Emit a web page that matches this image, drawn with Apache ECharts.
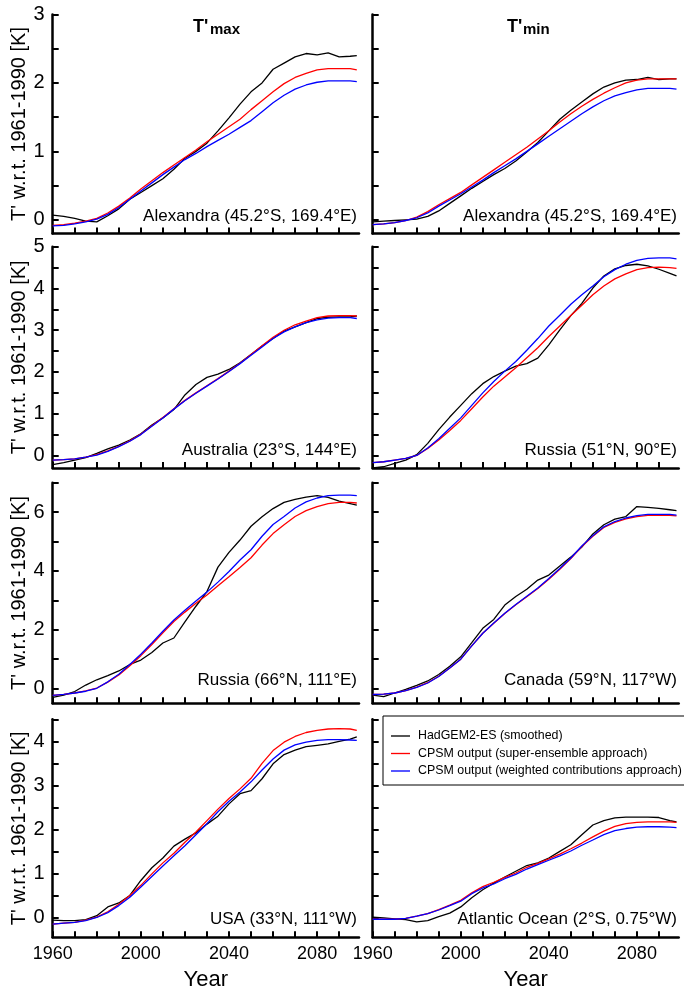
<!DOCTYPE html>
<html>
<head>
<meta charset="utf-8">
<script src="https://cdn.jsdelivr.net/npm/echarts@6/dist/echarts.min.js"></script>
<style>
html,body{margin:0;padding:0;background:#fff;}
#chart{width:684px;height:996px;}
</style>
</head>
<body>
<div id="chart"></div>
<script>
// ---------- data ----------
const years = [1960,1965,1970,1975,1980,1985,1990,1995,2000,2005,2010,2015,2020,2025,2030,2035,2040,2045,2050,2055,2060,2065,2070,2075,2080,2085,2090,2095,2098];

const seriesNames = ['HadGEM2-ES (smoothed)','CPSM output (super-ensemble approach)','CPSM output (weighted contributions approach)'];
const seriesColors = ['#000000','#ff0000','#0000ff'];

// Tmax Alexandra
const tmaxAlexandraHad = [0.07,0.05,0.02,-0.02,-0.03,0.06,0.16,0.30,0.40,0.50,0.60,0.74,0.90,1.00,1.12,1.30,1.49,1.69,1.87,2.00,2.20,2.29,2.38,2.43,2.41,2.44,2.38,2.39,2.40];
const tmaxAlexandraSup = [-0.08,-0.07,-0.05,-0.02,0.02,0.10,0.20,0.32,0.45,0.57,0.69,0.80,0.91,1.02,1.14,1.25,1.36,1.47,1.61,1.74,1.87,1.99,2.08,2.14,2.19,2.21,2.21,2.21,2.19];
const tmaxAlexandraWgt = [-0.09,-0.08,-0.06,-0.03,0.01,0.08,0.18,0.30,0.42,0.54,0.66,0.77,0.88,0.97,1.07,1.16,1.25,1.35,1.45,1.58,1.71,1.82,1.91,1.97,2.01,2.03,2.03,2.03,2.02];
// Tmin Alexandra
const tminAlexandraHad = [-0.03,-0.02,-0.01,0.00,0.01,0.05,0.13,0.24,0.35,0.46,0.56,0.66,0.75,0.86,0.99,1.13,1.30,1.47,1.60,1.72,1.84,1.94,2.00,2.04,2.05,2.08,2.05,2.06,2.06];
const tminAlexandraSup = [-0.07,-0.06,-0.04,-0.01,0.04,0.12,0.22,0.31,0.40,0.51,0.62,0.73,0.84,0.95,1.06,1.18,1.30,1.43,1.55,1.66,1.76,1.85,1.93,2.00,2.04,2.06,2.06,2.06,2.06];
const tminAlexandraWgt = [-0.07,-0.06,-0.04,-0.01,0.03,0.10,0.20,0.29,0.38,0.48,0.58,0.69,0.79,0.89,1.00,1.11,1.22,1.33,1.44,1.55,1.65,1.74,1.81,1.86,1.90,1.92,1.92,1.92,1.91];
// Tmax Australia
const tmaxAustraliaHad = [-0.22,-0.17,-0.11,-0.05,0.05,0.16,0.25,0.37,0.52,0.73,0.90,1.10,1.45,1.70,1.87,1.95,2.06,2.22,2.42,2.62,2.80,2.98,3.08,3.18,3.28,3.31,3.32,3.32,3.34];
const tmaxAustraliaSup = [-0.11,-0.10,-0.08,-0.04,0.02,0.11,0.22,0.35,0.51,0.71,0.91,1.12,1.32,1.50,1.67,1.84,2.02,2.21,2.42,2.63,2.83,3.00,3.13,3.22,3.30,3.34,3.35,3.35,3.34];
const tmaxAustraliaWgt = [-0.11,-0.10,-0.08,-0.04,0.01,0.10,0.21,0.34,0.50,0.70,0.90,1.11,1.31,1.49,1.66,1.83,2.01,2.20,2.40,2.60,2.80,2.96,3.08,3.18,3.25,3.29,3.30,3.30,3.28];
// Tmin Russia 51N
const tminRussiaHad = [-0.30,-0.27,-0.19,-0.11,0.02,0.29,0.62,0.92,1.20,1.48,1.72,1.89,2.02,2.14,2.20,2.33,2.65,3.01,3.35,3.64,4.01,4.30,4.47,4.55,4.58,4.54,4.46,4.36,4.30];
const tminRussiaSup = [-0.17,-0.15,-0.11,-0.07,0.00,0.17,0.37,0.60,0.84,1.12,1.40,1.66,1.88,2.10,2.34,2.58,2.85,3.10,3.35,3.60,3.85,4.06,4.23,4.35,4.45,4.50,4.51,4.50,4.48];
const tminRussiaWgt = [-0.17,-0.15,-0.11,-0.07,0.00,0.18,0.40,0.65,0.90,1.20,1.50,1.77,2.02,2.25,2.52,2.80,3.10,3.36,3.62,3.85,4.06,4.28,4.45,4.58,4.67,4.72,4.73,4.73,4.71];
// Tmax Russia 66N
const tmaxRussiaHad = [-0.30,-0.22,-0.10,0.12,0.30,0.44,0.60,0.82,0.97,1.23,1.55,1.72,2.27,2.80,3.30,4.13,4.63,5.05,5.52,5.84,6.12,6.33,6.43,6.51,6.56,6.50,6.37,6.29,6.24];
const tmaxRussiaSup = [-0.23,-0.20,-0.15,-0.08,0.02,0.22,0.46,0.78,1.12,1.50,1.90,2.28,2.60,2.90,3.18,3.50,3.80,4.12,4.45,4.88,5.27,5.57,5.85,6.05,6.19,6.29,6.33,6.33,6.31];
const tmaxRussiaWgt = [-0.23,-0.20,-0.15,-0.09,0.01,0.23,0.49,0.82,1.17,1.55,1.95,2.33,2.66,2.98,3.28,3.62,3.98,4.37,4.72,5.18,5.58,5.85,6.14,6.35,6.48,6.56,6.58,6.58,6.56];
// Tmin Canada
const tminCanadaHad = [-0.22,-0.27,-0.15,-0.03,0.11,0.26,0.48,0.76,1.08,1.56,2.05,2.35,2.84,3.13,3.38,3.69,3.86,4.17,4.47,4.81,5.26,5.57,5.76,5.85,6.19,6.16,6.13,6.08,6.05];
const tminCanadaSup = [-0.20,-0.19,-0.15,-0.07,0.05,0.20,0.42,0.70,1.00,1.45,1.88,2.22,2.55,2.85,3.12,3.40,3.72,4.06,4.42,4.83,5.18,5.48,5.65,5.77,5.85,5.89,5.89,5.89,5.87];
const tminCanadaWgt = [-0.20,-0.19,-0.15,-0.07,0.04,0.19,0.41,0.70,1.00,1.45,1.88,2.23,2.56,2.86,3.14,3.42,3.74,4.08,4.44,4.85,5.20,5.50,5.68,5.80,5.88,5.92,5.92,5.92,5.90];
// Tmax USA
const tmaxUsaHad = [-0.06,-0.07,-0.07,-0.05,0.04,0.24,0.33,0.50,0.84,1.13,1.35,1.62,1.78,1.92,2.12,2.30,2.58,2.81,2.88,3.15,3.49,3.70,3.80,3.88,3.91,3.94,4.00,4.05,4.10];
const tmaxUsaSup = [-0.15,-0.13,-0.11,-0.06,0.01,0.13,0.30,0.50,0.73,0.99,1.24,1.46,1.71,1.94,2.20,2.46,2.70,2.92,3.16,3.50,3.79,3.98,4.11,4.20,4.25,4.28,4.29,4.28,4.25];
const tmaxUsaWgt = [-0.15,-0.13,-0.11,-0.07,0.00,0.11,0.27,0.46,0.69,0.93,1.17,1.40,1.63,1.88,2.13,2.40,2.64,2.85,3.08,3.35,3.60,3.80,3.92,3.98,4.02,4.04,4.04,4.03,4.02];
// Tmin Atlantic Ocean
const tminAtlanticHad = [0.01,-0.01,-0.03,-0.05,-0.10,-0.07,0.02,0.10,0.24,0.45,0.63,0.78,0.92,1.05,1.18,1.24,1.35,1.50,1.65,1.88,2.10,2.20,2.26,2.28,2.28,2.28,2.27,2.20,2.17];
const tminAtlanticSup = [-0.04,-0.04,-0.04,-0.02,0.03,0.09,0.18,0.28,0.39,0.56,0.70,0.80,0.91,1.01,1.14,1.23,1.33,1.44,1.56,1.69,1.83,1.96,2.07,2.13,2.16,2.17,2.17,2.17,2.16];
const tminAtlanticWgt = [-0.04,-0.04,-0.04,-0.02,0.03,0.09,0.17,0.27,0.37,0.54,0.67,0.76,0.88,0.98,1.10,1.20,1.30,1.40,1.51,1.64,1.76,1.88,1.97,2.02,2.05,2.06,2.06,2.05,2.04];

const panelLabels = [
  'Alexandra (45.2°S, 169.4°E)', 'Alexandra (45.2°S, 169.4°E)',
  'Australia (23°S, 144°E)', 'Russia (51°N, 90°E)',
  'Russia (66°N, 111°E)', 'Canada (59°N, 117°W)',
  'USA (33°N, 111°W)', 'Atlantic Ocean (2°S, 0.75°W)'
];
const panelData = [
  [tmaxAlexandraHad, tmaxAlexandraSup, tmaxAlexandraWgt],
  [tminAlexandraHad, tminAlexandraSup, tminAlexandraWgt],
  [tmaxAustraliaHad, tmaxAustraliaSup, tmaxAustraliaWgt],
  [tminRussiaHad, tminRussiaSup, tminRussiaWgt],
  [tmaxRussiaHad, tmaxRussiaSup, tmaxRussiaWgt],
  [tminCanadaHad, tminCanadaSup, tminCanadaWgt],
  [tmaxUsaHad, tmaxUsaSup, tmaxUsaWgt],
  [tminAtlanticHad, tminAtlanticSup, tminAtlanticWgt]
];

// axes
const rowMin = [-0.2, -0.3, -0.5, -0.45];
const rowMax = [3, 5, 7, 4.5];
const rowTicks = [
  [0,0.5,1,1.5,2,2.5,3],
  [0,0.5,1,1.5,2,2.5,3,3.5,4,4.5,5],
  [0,1,2,3,4,5,6,7],
  [0,0.5,1,1.5,2,2.5,3,3.5,4,4.5]
];
const rowTickLabels = [[0,1,2,3],[0,1,2,3,4,5],[0,2,4,6],[0,1,2,3,4]];
const xTicks = [1960,1970,1980,1990,2000,2010,2020,2030,2040,2050,2060,2070,2080,2090];
const xTickLabels = [1960,2000,2040,2080];
const yAxisTitle = "T' w.r.t. 1961-1990 [K]";
const xAxisTitle = 'Year';

// ---------- layout ----------
const FONT = 'Liberation Sans, Arial, sans-serif';
const colLeft = [52.7, 372.7];
const colWidth = [306.3, 306];
const rowTop = [14.5, 246.7, 482.7, 719.3];
const rowHeight = [219, 221.3, 220.6, 218];
const labelRight = [357, 677];
const labelY = [216.7, 450, 680.7, 919];

const grids = [], xAxes = [], yAxes = [], series = [], graphics = [];
for (let i = 0; i < 8; i++) {
  const r = Math.floor(i / 2), c = i % 2;
  grids.push({left: colLeft[c], top: rowTop[r], width: colWidth[c], height: rowHeight[r], containLabel: false});
  xAxes.push({
    type: 'value', gridIndex: i, min: 1960, max: 2099,
    axisLine: {onZero: false, lineStyle: {color: '#000', width: 2.5}},
    axisTick: {inside: true, length: 6, customValues: xTicks, lineStyle: {color: '#000', width: 2}},
    axisLabel: {show: r === 3, customValues: xTickLabels, formatter: v => String(v), margin: 8, color: '#000', fontSize: 18, fontFamily: FONT},
    splitLine: {show: false},
    name: r === 3 ? xAxisTitle : '', nameLocation: 'middle', nameGap: 32,
    nameTextStyle: {fontSize: 22, color: '#000', fontFamily: FONT}
  });
  yAxes.push({
    type: 'value', gridIndex: i, min: rowMin[r], max: rowMax[r],
    axisLine: {show: true, onZero: false, lineStyle: {color: '#000', width: 2.5}},
    axisTick: {show: true, inside: true, length: 6, customValues: rowTicks[r], lineStyle: {color: '#000', width: 2}},
    axisLabel: {show: c === 0, customValues: rowTickLabels[r], formatter: v => String(v), margin: 8, color: '#000', fontSize: 20, fontFamily: FONT},
    splitLine: {show: false},
    name: c === 0 ? yAxisTitle : '', nameLocation: 'middle', nameGap: 23,
    nameTextStyle: {fontSize: 20, color: '#000', fontFamily: FONT}
  });
  panelData[i].forEach((arr, k) => {
    series.push({
      type: 'line', name: seriesNames[k], xAxisIndex: i, yAxisIndex: i,
      data: years.map((y, j) => [y, arr[j]]),
      symbol: 'none', showSymbol: false, silent: true,
      lineStyle: {color: seriesColors[k], width: 1.3},
      itemStyle: {color: seriesColors[k]},
      z: 2 + k
    });
  });
  graphics.push({
    type: 'text', x: labelRight[c], y: labelY[r],
    style: {text: panelLabels[i], align: 'right', verticalAlign: 'middle', fontSize: 17, fontFamily: FONT, fill: '#000'}
  });
}
// column titles
graphics.push({type: 'text', x: 193, y: 27, style: {text: "T'", fontSize: 18, fontWeight: 'bold', fontFamily: FONT, fill: '#000', verticalAlign: 'middle'}});
graphics.push({type: 'text', x: 210, y: 30, style: {text: 'max', fontSize: 15, fontWeight: 'bold', fontFamily: FONT, fill: '#000', verticalAlign: 'middle'}});
graphics.push({type: 'text', x: 507, y: 27, style: {text: "T'", fontSize: 18, fontWeight: 'bold', fontFamily: FONT, fill: '#000', verticalAlign: 'middle'}});
graphics.push({type: 'text', x: 523, y: 30, style: {text: 'min', fontSize: 15, fontWeight: 'bold', fontFamily: FONT, fill: '#000', verticalAlign: 'middle'}});

const LEGEND_ICON = 'path://M0,0 L20,0 L20,1.4 L0,1.4 Z';

const chart = echarts.init(document.getElementById('chart'), null, {renderer: 'canvas'});
chart.setOption({
  animation: false,
  backgroundColor: '#fff',
  grid: grids, xAxis: xAxes, yAxis: yAxes, series: series,
  legend: {
    data: seriesNames.map(n => ({name: n, icon: LEGEND_ICON})),
    orient: 'vertical', left: 383, top: 716,
    itemWidth: 19, itemHeight: 14, itemGap: 5.5,
    symbolKeepAspect: true,
    padding: [14, 20, 8, 8],
    borderColor: '#000', borderWidth: 1, backgroundColor: '#fff',
    selectedMode: false,
    textStyle: {fontSize: 12.4, color: '#000', fontFamily: FONT, padding: [0, 0, 0, 3]}
  },
  graphic: graphics
});
</script>
</body>
</html>
